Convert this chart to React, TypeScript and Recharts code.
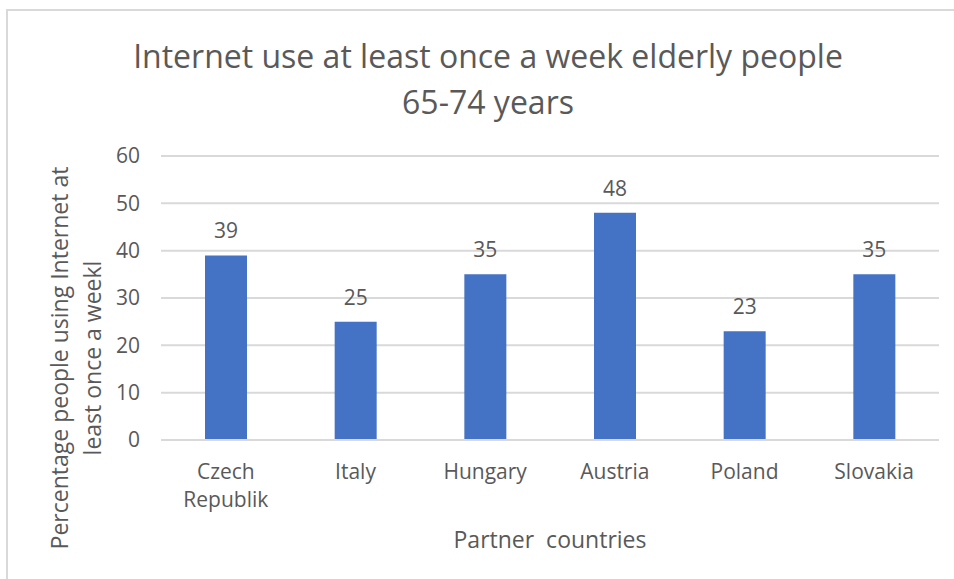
import { BarChart, Bar, XAxis, YAxis, CartesianGrid, LabelList, Label, Text } from "recharts";

const countries = ["Czech Republik", "Italy", "Hungary", "Austria", "Poland", "Slovakia"];
const usage = [39, 25, 35, 48, 23, 35];
const yTicks = [0, 10, 20, 30, 40, 50, 60];

const data = countries.map((name, i) => ({ name, value: usage[i] }));

const FONT = "'Open Sans', 'Noto Sans', sans-serif";
const GREY = "#595959";

function CountryTick({ x, y, payload }: { x?: number; y?: number; payload?: { value: string } }) {
  return (
    <Text
      x={x}
      y={(y ?? 0) + 16}
      width={100}
      textAnchor="middle"
      verticalAnchor="start"
      lineHeight={28}
      fill={GREY}
      fontSize={21}
      fontFamily={FONT}
    >
      {payload?.value}
    </Text>
  );
}

function YTitle() {
  // two-line rotated axis title, centred lower than the plot like the original
  return (
    <text
      transform="translate(60, 358) rotate(-90)"
      textAnchor="middle"
      fill={GREY}
      fontSize={23}
      fontFamily={FONT}
    >
      <tspan x={0} dy={8}>Percentage people using Internet at</tspan>
      <tspan x={0} dy={33}>least once a weekl</tspan>
    </text>
  );
}

export default function App() {
  return (
    <div style={{ position: "fixed", left: 0, top: 0, width: 954, height: 579, overflow: "hidden", background: "#fff" }}>
      <div
        style={{
          position: "absolute",
          left: 6,
          top: 9,
          width: 960,
          height: 580,
          border: "2px solid #d9d9d9",
          boxSizing: "border-box",
        }}
      />
      <div
        style={{
          position: "absolute",
          left: 0,
          top: 33,
          width: 976,
          textAlign: "center",
          fontFamily: FONT,
          fontSize: 32,
          lineHeight: "46px",
          color: GREY,
        }}
      >
        Internet use at least once a week elderly people
        <br />
        65-74 years
      </div>
      <div style={{ position: "absolute", left: 0, top: 0 }}>
        <BarChart
          width={954}
          height={579}
          data={data}
          margin={{ top: 156, right: 15, bottom: 109, left: 0 }}
        >
          <CartesianGrid vertical={false} stroke="#d9d9d9" strokeWidth={2} />
          <XAxis
            dataKey="name"
            height={30}
            axisLine={{ stroke: "#d9d9d9", strokeWidth: 2 }}
            tickLine={false}
            interval={0}
            tick={<CountryTick />}
          >
            <Label
              content={({ viewBox }: any) => (
                <text
                  x={viewBox.x + viewBox.width / 2}
                  y={548}
                  textAnchor="middle"
                  fill={GREY}
                  fontSize={23}
                  fontFamily={FONT}
                  style={{ whiteSpace: "pre" }}
                >
                  Partner  countries
                </text>
              )}
            />
          </XAxis>
          <YAxis
            width={161}
            domain={[0, 60]}
            ticks={yTicks}
            axisLine={false}
            tickLine={false}
            tickMargin={15}
            tick={{ fill: GREY, fontSize: 21, fontFamily: FONT }}
          >
            <Label content={<YTitle />} />
          </YAxis>
          <Bar dataKey="value" fill="#4472c4" barSize={42} isAnimationActive={false}>
            <LabelList dataKey="value" position="top" offset={17} fill={GREY} fontSize={21} fontFamily={FONT} />
          </Bar>
        </BarChart>
      </div>
    </div>
  );
}
